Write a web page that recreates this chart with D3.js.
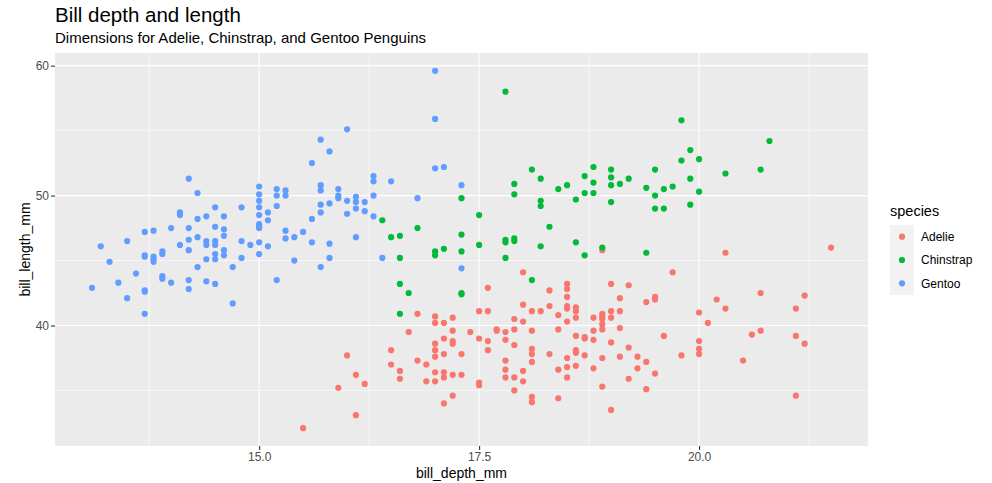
<!DOCTYPE html>
<html>
<head>
<meta charset="utf-8">
<script src="https://cdn.jsdelivr.net/npm/d3@7"></script>
<style>
  body { margin: 0; background: #fff; }
  text { font-family: "Liberation Sans", Arial, sans-serif; }
</style>
</head>
<body>
<div class="chart"></div>
<script>
// values (bill depth mm, bill length mm)
const adelieDepth = [15.5,15.9,16.0,16.1,16.1,16.2,16.5,16.5,16.6,16.6,16.7,16.8,16.8,16.9,16.9,17.0,17.0,17.0,17.0,17.0,17.0,17.0,
  17.1,17.1,17.1,17.1,17.1,17.1,17.2,17.2,17.2,17.2,17.2,17.2,17.3,17.3,17.4,17.5,17.5,17.5,17.5,17.6,17.6,17.6,17.6,17.7,17.7,
  17.8,17.8,17.8,17.8,17.8,17.9,17.9,17.9,17.9,17.9,18.0,18.0,18.0,18.0,18.0,18.1,18.1,18.1,18.1,18.1,18.1,18.1,18.2,18.3,18.3,18.3,
  18.4,18.4,18.4,18.4,18.5,18.5,18.5,18.5,18.5,18.5,18.5,18.5,18.5,18.6,18.6,18.6,18.6,18.6,18.6,18.6,18.7,18.7,18.7,
  18.8,18.8,18.8,18.8,18.9,18.9,18.9,18.9,18.9,18.9,18.9,18.9,19.0,19.0,19.0,19.0,19.0,19.1,19.1,19.1,19.1,19.2,19.2,19.2,
  19.3,19.3,19.4,19.4,19.4,19.5,19.5,19.5,19.6,19.7,19.8,20.0,20.0,20.0,20.0,20.1,20.2,20.3,20.3,20.5,20.6,20.7,20.7,
  21.1,21.1,21.1,21.2,21.2,21.5];
const adelieLength = [32.1,35.2,37.7,36.2,33.1,35.5,38.1,37.0,36.5,35.9,39.5,40.9,37.3,37.0,35.7,40.7,40.2,38.6,38.1,37.6,36.4,35.7,
  40.2,39.0,37.8,36.4,36.0,34.0,40.6,39.6,38.8,38.6,36.2,34.6,37.8,36.2,39.5,41.1,39.0,35.6,35.4,42.9,41.1,38.8,38.1,39.7,39.6,
  39.5,38.9,37.3,36.6,36.0,40.5,39.7,38.5,36.0,35.0,44.1,41.6,40.3,36.5,35.7,41.1,39.6,38.2,37.8,37.2,34.5,34.1,41.1,42.7,41.5,37.8,
  40.8,39.7,36.6,34.4,43.2,42.8,42.2,41.5,41.3,40.3,37.5,36.8,36.0,41.4,41.1,40.6,39.2,38.1,37.9,36.9,39.1,39.0,37.7,
  40.6,39.6,38.9,36.7,45.8,40.9,40.7,40.5,40.1,39.7,37.5,35.3,43.2,41.1,40.6,38.7,33.5,42.1,41.1,39.8,37.6,43.1,38.3,35.9,
  37.6,36.7,41.8,37.2,35.1,42.2,42.0,36.3,39.2,44.1,37.7,41.0,38.8,38.2,37.8,40.2,42.0,45.6,41.3,37.3,39.3,42.5,39.6,
  41.3,39.2,34.6,42.3,38.6,46.0];

const chinstrapDepth = [16.4,16.5,16.6,16.6,16.6,16.6,16.7,16.8,17.0,17.0,17.1,17.3,17.3,17.3,17.3,17.3,17.5,17.5,17.8,17.8,17.8,17.8,
  17.9,17.9,17.9,17.9,18.1,18.1,18.2,18.2,18.2,18.2,18.3,18.4,18.5,18.6,18.6,18.7,18.7,18.7,18.8,18.8,18.8,18.9,
  19.0,19.0,19.0,19.0,19.1,19.2,19.4,19.4,19.5,19.5,19.5,19.6,19.6,19.7,19.8,19.8,19.9,19.9,19.9,20.0,20.0,20.3,20.7,20.8];
const chinstrapLength = [48.1,46.8,46.9,45.2,43.2,40.9,42.5,47.5,45.7,45.4,45.9,49.8,47.0,45.7,42.5,42.4,48.5,46.2,58.0,46.6,46.4,45.2,
  50.9,50.1,46.7,46.5,52.0,43.5,51.3,49.6,49.2,46.1,47.6,50.5,50.8,49.7,46.4,51.5,50.2,45.4,52.2,51.0,50.2,46.0,
  52.0,51.4,50.8,49.5,50.9,51.3,50.6,45.6,52.0,50.0,49.0,50.5,49.0,50.7,55.8,52.7,53.5,51.3,49.3,52.8,50.3,51.7,52.0,54.2];

const gentooDepth = [13.1,13.2,13.3,13.4,13.5,13.5,13.6,13.7,13.7,13.7,13.7,13.7,13.7,13.8,13.8,13.8,13.8,13.9,13.9,13.9,13.9,
  14.0,14.0,14.1,14.1,14.1,14.2,14.2,14.2,14.2,14.2,14.2,14.3,14.3,14.3,14.3,14.4,14.4,14.4,14.4,14.4,
  14.5,14.5,14.5,14.5,14.5,14.5,14.5,14.6,14.6,14.6,14.6,14.6,14.7,14.7,14.8,14.8,14.8,14.9,
  15.0,15.0,15.0,15.0,15.0,15.0,15.0,15.0,15.0,15.0,15.1,15.1,15.1,15.2,15.2,15.2,15.2,15.3,15.3,15.3,15.3,
  15.4,15.4,15.5,15.6,15.6,15.6,15.7,15.7,15.7,15.7,15.7,15.7,15.8,15.8,15.8,15.8,15.9,15.9,15.9,
  16.0,16.0,16.0,16.1,16.1,16.1,16.1,16.2,16.2,16.3,16.3,16.3,16.3,16.4,16.5,16.8,17.0,17.0,17.0,17.1,17.3,17.3];
const gentooLength = [42.9,46.1,44.9,43.3,46.5,42.1,44.0,47.2,45.4,45.3,42.7,42.6,40.9,47.3,45.3,45.1,44.9,45.7,45.5,43.8,43.6,
  47.5,43.3,48.7,48.5,46.2,51.3,47.5,46.6,45.8,43.5,42.8,50.2,48.2,46.8,44.5,48.4,46.5,46.2,45.1,43.4,
  49.1,47.6,46.5,46.2,45.5,45.1,43.2,48.4,47.4,46.9,45.8,45.4,44.5,41.7,49.1,46.5,45.2,46.2,
  50.7,50.1,49.6,49.1,48.5,47.8,47.6,47.5,46.4,45.5,48.7,48.1,46.1,50.5,50.0,49.2,43.5,50.4,50.0,47.3,46.7,
  46.8,45.0,47.2,52.5,48.2,46.4,54.3,50.8,50.4,49.3,48.7,44.5,53.4,49.4,46.3,45.2,50.5,50.0,49.8,
  55.1,49.6,48.6,49.9,49.5,49.0,46.8,49.5,48.8,51.5,51.1,50.0,48.4,45.2,51.1,49.8,59.6,55.9,52.1,52.2,50.8,44.4];

const species = ["Adelie", "Chinstrap", "Gentoo"];
const speciesColors = ["#F8766D", "#00BA38", "#619CFF"];
const xTicks = [15, 17.5, 20];
const yTicks = [40, 50, 60];

const data = [];
[[adelieDepth, adelieLength], [chinstrapDepth, chinstrapLength], [gentooDepth, gentooLength]]
  .forEach((pair, s) => pair[0].forEach((d, i) => data.push({species: species[s], depth: d, length: pair[1][i]})));

const width = 992, height = 483;
const margin = {top: 53, right: 124, bottom: 37, left: 55};

const svg = d3.select(".chart").append("svg")
  .attr("width", width).attr("height", height);

// ggplot style 5% expansion
function expand(ext) {
  const pad = (ext[1] - ext[0]) * 0.05;
  return [ext[0] - pad, ext[1] + pad];
}

const x = d3.scaleLinear()
  .domain(expand(d3.extent(data, d => d.depth)))
  .range([margin.left, width - margin.right]);
const y = d3.scaleLinear()
  .domain(expand(d3.extent(data, d => d.length)))
  .range([height - margin.bottom, margin.top]);

const color = d3.scaleOrdinal().domain(species).range(speciesColors);

// panel
svg.append("rect")
  .attr("x", margin.left).attr("y", margin.top)
  .attr("width", width - margin.right - margin.left)
  .attr("height", height - margin.bottom - margin.top)
  .attr("fill", "#EBEBEB");

// minor grid at midpoints
const xMinor = [13.75, 16.25, 18.75, 21.25];
const yMinor = [35, 45, 55];
const grid = svg.append("g");
grid.selectAll(".xminor").data(xMinor).enter().append("line")
  .attr("x1", d => x(d)).attr("x2", d => x(d))
  .attr("y1", margin.top).attr("y2", height - margin.bottom)
  .attr("stroke", "#fff").attr("stroke-width", 0.55);
grid.selectAll(".yminor").data(yMinor).enter().append("line")
  .attr("y1", d => y(d)).attr("y2", d => y(d))
  .attr("x1", margin.left).attr("x2", width - margin.right)
  .attr("stroke", "#fff").attr("stroke-width", 0.55);
grid.selectAll(".xmajor").data(xTicks).enter().append("line")
  .attr("x1", d => x(d)).attr("x2", d => x(d))
  .attr("y1", margin.top).attr("y2", height - margin.bottom)
  .attr("stroke", "#fff").attr("stroke-width", 1.1);
grid.selectAll(".ymajor").data(yTicks).enter().append("line")
  .attr("y1", d => y(d)).attr("y2", d => y(d))
  .attr("x1", margin.left).attr("x2", width - margin.right)
  .attr("stroke", "#fff").attr("stroke-width", 1.1);

// points
svg.append("g").selectAll("circle")
  .data(data).enter().append("circle")
  .attr("cx", d => x(d.depth))
  .attr("cy", d => y(d.length))
  .attr("r", 3.1)
  .attr("fill", d => color(d.species));

// axes
const xAxis = svg.append("g")
  .attr("transform", "translate(0," + (height - margin.bottom) + ")")
  .call(d3.axisBottom(x).tickValues(xTicks).tickFormat(d3.format(".1f")).tickSize(4).tickPadding(2));
const yAxis = svg.append("g")
  .attr("transform", "translate(" + margin.left + ",0)")
  .call(d3.axisLeft(y).tickValues(yTicks).tickSize(4).tickPadding(2));
[xAxis, yAxis].forEach(a => {
  a.select(".domain").remove();
  a.selectAll(".tick line").attr("stroke", "#333333").attr("stroke-width", 1.1);
  a.selectAll(".tick text").attr("fill", "#4D4D4D").style("font-size", "12px")
    .style("font-family", "'Liberation Sans', Arial, sans-serif");
});

// titles
svg.append("text").attr("x", margin.left).attr("y", 22)
  .attr("font-size", "20.5px").attr("fill", "#000").text("Bill depth and length");
svg.append("text").attr("x", margin.left).attr("y", 43)
  .attr("font-size", "15px").attr("fill", "#000")
  .text("Dimensions for Adelie, Chinstrap, and Gentoo Penguins");

svg.append("text").attr("x", (margin.left + width - margin.right) / 2).attr("y", 478)
  .attr("text-anchor", "middle").attr("font-size", "14px").text("bill_depth_mm");
svg.append("text")
  .attr("transform", "translate(30," + (margin.top + height - margin.bottom) / 2 + ") rotate(-90)")
  .attr("text-anchor", "middle").attr("font-size", "14px").text("bill_length_mm");

// legend
const legend = svg.append("g").attr("transform", "translate(890,0)");
legend.append("text").attr("x", 0).attr("y", 216).attr("font-size", "14.5px").text("species");
const keys = legend.selectAll(".key").data(species).enter().append("g")
  .attr("transform", (d, i) => "translate(0," + (225 + i * 23.3) + ")");
keys.append("rect").attr("width", 24).attr("height", 23.3).attr("fill", "#F2F2F2");
keys.append("circle").attr("cx", 12).attr("cy", 11.7).attr("r", 3.1).attr("fill", d => color(d));
keys.append("text").attr("x", 31).attr("y", 16).attr("font-size", "12px").text(d => d);
</script>
</body>
</html>
